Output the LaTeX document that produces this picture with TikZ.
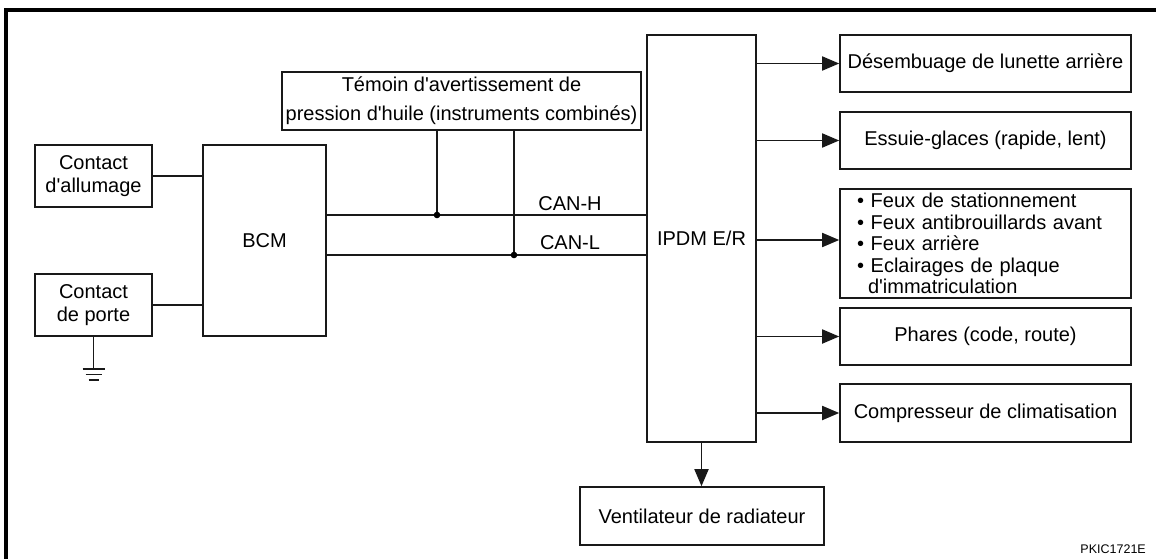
\documentclass[tikz,border=0pt]{standalone}
\usepackage{fontspec}
\newfontfamily\lsans{Liberation Sans}
\usetikzlibrary{arrows.meta}
\begin{document}
\begin{tikzpicture}[x=1pt,y=-1pt,
  box/.style={draw=black!90, line width=1.6pt, inner sep=0pt, align=center,
              font=\lsans\fontsize{20}{23.5}\selectfont},
  lbl/.style={inner sep=0pt, font=\lsans\fontsize{20}{23.5}\selectfont},
  wire/.style={line width=1.8pt, draw=black!90},
  arr/.style={wire, -{Triangle[length=17pt,width=14pt]}},
]
\useasboundingbox (0,0) rectangle (1156,559);
% frame
\draw[line width=4pt] (1156,10) -- (6,10) -- (6,559);

% left side
\node[box, minimum width=117pt, minimum height=62pt] (allum) at (93.5,176) {Contact\\d'allumage};
\node[box, minimum width=117pt, minimum height=62pt] (porte) at (93.5,305) {Contact\\de porte};
\node[box, minimum width=123pt, minimum height=191pt] (bcm) at (264.5,240.5) {BCM};
\node[box, minimum width=359pt, minimum height=58pt, font=\lsans\fontsize{20}{29}\selectfont] (temoin) at (461.5,101)
  {Témoin d'avertissement de\\pression d'huile (instruments combinés)};
\node[box, minimum width=109pt, minimum height=407pt] (ipdm) at (701.5,238.5) {IPDM E/R};

% right side
\node[box, minimum width=291pt, minimum height=57pt] (des) at (985.5,63.5) {Désembuage de lunette arrière};
\node[box, minimum width=291pt, minimum height=57pt] (ess) at (985.5,140.5) {Essuie-glaces (rapide, lent)};
\node[box, minimum width=291pt, minimum height=109pt, text width=257pt, align=left,
      font=\lsans\fontsize{20}{21.5}\selectfont] (feux) at (985.5,243.5)
  {• Feux de stationnement\\• Feux antibrouillards avant\\• Feux arrière\\• Eclairages de plaque\\\hspace*{11pt}d'immatriculation};
\node[box, minimum width=291pt, minimum height=57pt] (pha) at (985.5,336.5) {Phares (code, route)};
\node[box, minimum width=291pt, minimum height=58pt] (comp) at (985.5,413) {Compresseur de climatisation};
\node[box, minimum width=244pt, minimum height=58pt] (vent) at (702,516) {Ventilateur de radiateur};

% left wiring
\draw[wire] (allum.east) -- (allum.east -| bcm.west);
\draw[wire] (porte.east) -- (porte.east -| bcm.west);
\draw[wire] (porte.south) -- ++(0,32) coordinate (gnd);
\draw[wire, line width=1.5pt] ([xshift=-11pt]gnd) -- ([xshift=11pt]gnd);
\draw[wire, line width=1.5pt] ([shift={(-8,5.5)}]gnd) -- ([shift={(8,5.5)}]gnd);
\draw[wire, line width=1.5pt] ([shift={(-5,11)}]gnd) -- ([shift={(5,11)}]gnd);

% CAN bus
\coordinate (hy) at (0,215);
\coordinate (ly) at (0,255);
\coordinate (jh) at (437,215);
\coordinate (jl) at (514,255);
\draw[wire] (bcm.east |- hy) -- (ipdm.west |- hy);
\draw[wire] (bcm.east |- ly) -- (ipdm.west |- ly);
\draw[wire] (temoin.south -| jh) -- (jh);
\draw[wire] (temoin.south -| jl) -- (jl);
\fill (jh) circle (3.3pt);
\fill (jl) circle (3.3pt);
\node[lbl] (canh) at (570,204) {CAN-H};
\node[lbl] (canl) at (570,243) {CAN-L};

% outputs
\coordinate (fy) at (0,240);
\draw[arr] (ipdm.east |- des.west) -- (des.west);
\draw[arr] (ipdm.east |- ess.west) -- (ess.west);
\draw[arr] (ipdm.east |- fy) -- (feux.west |- fy);
\draw[arr] (ipdm.east |- pha.west) -- (pha.west);
\draw[arr] (ipdm.east |- comp.west) -- (comp.west);
\draw[arr] (ipdm.south) -- (ipdm.south |- vent.north);

% reference code
\node[inner sep=0pt, anchor=east, font=\lsans\fontsize{12.5}{14}\selectfont] (ref) at (1146,549) {PKIC1721E};
\end{tikzpicture}
\end{document}
